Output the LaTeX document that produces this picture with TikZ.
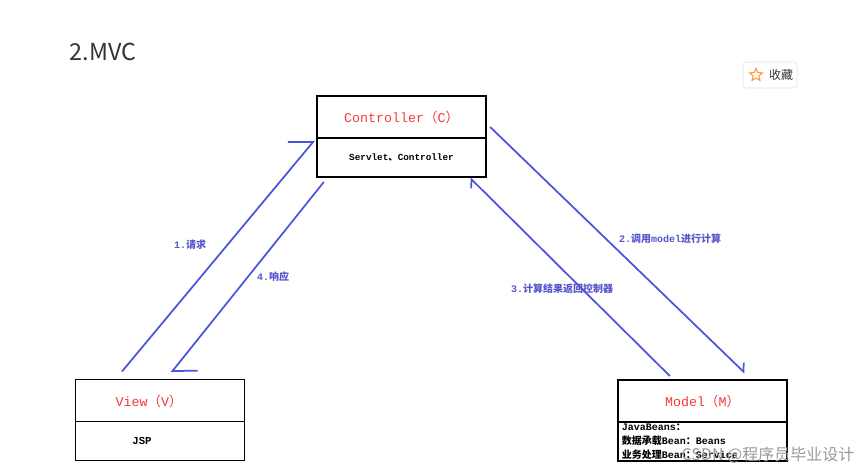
\documentclass[tikz,border=0pt]{standalone}
\usepackage{fontspec}
\setmainfont{Liberation Mono}
\newfontfamily\cjk{Noto Sans CJK SC}
\usepackage{xcolor}
\usepackage{tikz}
\usetikzlibrary{arrows.meta}
\usetikzlibrary{positioning}
\usetikzlibrary{shapes.geometric}
\definecolor{mvc_red}{RGB}{245,56,56}
\definecolor{flow_blue}{RGB}{72,84,218}
\definecolor{note_blue}{RGB}{86,86,204}
\definecolor{title_gray}{RGB}{51,51,51}
\newcommand{\zh}[1]{{\cjk #1}}
\tikzset{
    boxnode/.style = {rectangle, draw=black, line width=1.2pt, inner sep=0pt, outer sep=0pt, minimum width=127pt, align=center},
    head_box/.style = {boxnode, minimum height=31.5pt, text=mvc_red, font=\fontsize{10}{12}\selectfont},
    body_box/.style = {boxnode, minimum height=29.25pt, font=\fontsize{7}{9}\selectfont\bfseries},
    flow/.style = {draw=flow_blue, line width=1.3pt},
    long_barb/.style = {flow, -{Straight Barb[harpoon, length=12pt, width=29pt]}},
    short_barb/.style = {flow, -{Straight Barb[harpoon, length=4.5pt, width=10pt]}},
    note/.style = {text=note_blue, inner sep=1pt, font=\fontsize{7.5}{9}\selectfont\bfseries}
}

\begin{document}
\begin{tikzpicture}[x=0.75pt, y=-0.75pt]
    \useasboundingbox (0,0) rectangle (864,470);

    \node (title) [text=title_gray, font=\cjk\fontsize{17.5}{21}\selectfont] at (103,52) {2.MVC};

    % collect button
    \node (fav_btn) [draw=black!12, rounded corners=2pt, minimum width=40.5pt, minimum height=19.5pt] at (770,75) {};
    \node (fav_star) [star, star points=5, star point ratio=2.2, draw=orange!80, line width=0.8pt, minimum size=10pt, inner sep=0pt] at (756,75) {};
    \node (fav_text) [text=title_gray, font=\cjk\fontsize{9}{11}\selectfont] at (781,75) {收藏};

    % boxes
    \node (ctrl_top) [head_box] at (401.5,117) {Controller\zh{（}C\zh{）}};
    \node (ctrl_bot) [body_box, below=0pt of ctrl_top] {Servlet\zh{、}Controller};

    \node (view_top) [head_box] at (160,400.5) {};
    \node (view_bot) [body_box, below=0pt of view_top] {};
    \node (view_name) [text=mvc_red, font=\fontsize{10}{12}\selectfont] at (149,401) {View\zh{（}V\zh{）}};
    \node (view_jsp) [font=\fontsize{8}{10}\selectfont\bfseries] at (142,441) {JSP};

    \node (model_top) [head_box] at (702.5,401) {Model\zh{（}M\zh{）}};
    \node (model_bot) [body_box, below=0pt of model_top, align=left, text width=121pt,
        font=\fontsize{7.5}{10.5}\selectfont\bfseries] {JavaBeans\zh{：}\\\zh{数据承载}Bean\zh{：}Beans\\\zh{业务处理}Bean\zh{：}Service};

    % flows
    \draw [long_barb] ([xshift=35pt, yshift=6pt]view_top.north west) -- ([xshift=-2pt, yshift=-2pt]ctrl_top.south west);
    \draw [long_barb] ([xshift=5.25pt, yshift=-3.75pt]ctrl_bot.south west) -- ([xshift=72pt, yshift=5.25pt]view_top.north west);
    \draw [short_barb] ([xshift=3pt, yshift=8.25pt]ctrl_top.south east) -- ([xshift=95.25pt, yshift=5.25pt]model_top.north west);
    \draw [short_barb] ([xshift=39pt, yshift=3pt]model_top.north west) -- ([xshift=-12pt, yshift=-0.75pt]ctrl_bot.south east);

    \node (req_note) [note] at (190,245) {1.\zh{请求}};
    \node (resp_note) [note] at (273,277) {4.\zh{响应}};
    \node (call_note) [note] at (670,239) {2.\zh{调用}model\zh{进行计算}};
    \node (back_note) [note] at (562,289) {3.\zh{计算结果返回控制器}};

    \node (mark) [text=black!40, font=\cjk\fontsize{12}{14}\selectfont] at (768,455) {CSDN @程序员毕业设计};
\end{tikzpicture}
\end{document}
